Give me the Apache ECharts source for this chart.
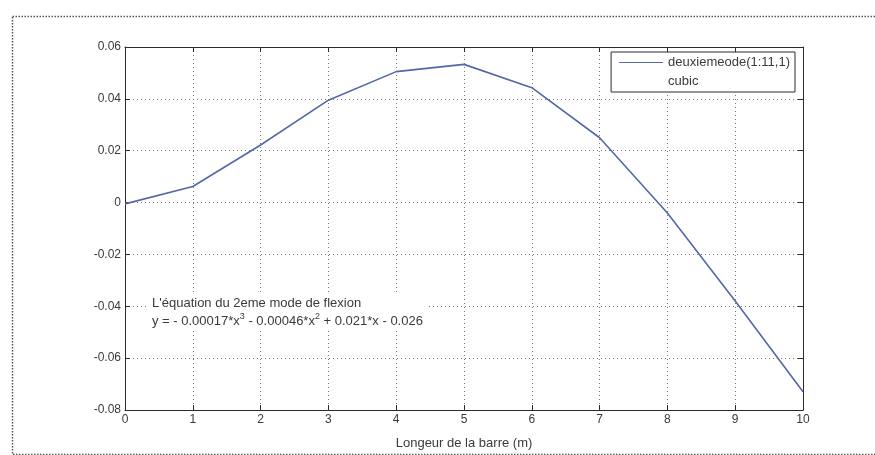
<!DOCTYPE html>
<html>
<head>
<meta charset="utf-8">
<script src="https://cdn.jsdelivr.net/npm/echarts@6/dist/echarts.min.js"></script>
<style>
  html, body { margin: 0; padding: 0; background: #fff; }
  #chart { width: 875px; height: 455px; }
</style>
</head>
<body>
<div id="chart"></div>
<script>
// Bar length positions (m) and second bending mode shape values
const positions = [0, 1, 2, 3, 4, 5, 6, 7, 8, 9, 10];
const modeValues = [-0.0005, 0.0062, 0.0222, 0.0395, 0.0505, 0.0533, 0.0443, 0.0250, -0.0040, -0.0380, -0.0730];
const seriesName = 'deuxiemeode(1:11,1)';
const fitName = 'cubic';
const xTitle = 'Longeur de la barre (m)';
const noteTitle = "L'équation du 2eme mode de flexion";
const noteEquation = 'y = - 0.00017*x{sup|3} - 0.00046*x{sup|2} + 0.021*x - 0.026';

const chart = echarts.init(document.getElementById('chart'));
const txt = '#3a3a3a';
const font = 'Liberation Sans, Arial, sans-serif';

const fmtY = v => {
  const r = Math.round(v * 100) / 100;
  return r === 0 ? '0' : String(r);
};

const baseAxis = {
  axisLine: { show: true, onZero: false, lineStyle: { color: '#2b2b2b', width: 1 } },
  axisTick: { show: true, inside: true, length: 5, lineStyle: { color: '#2b2b2b' } },
  axisLabel: { color: txt, fontFamily: font, fontSize: 12 },
};

chart.setOption({
  animation: false,
  backgroundColor: '#fff',
  grid: { left: 125, top: 47, right: 72, bottom: 43, containLabel: false },
  legend: {
    orient: 'vertical',
    right: 80,
    top: 52,
    padding: [4, 5, 4, 8],
    borderColor: '#2b2b2b',
    borderWidth: 1,
    backgroundColor: '#fff',
    itemWidth: 44,
    itemHeight: 10,
    itemGap: 6,
    textStyle: { color: txt, fontFamily: font, fontSize: 13 },
    data: [
      { name: seriesName, icon: 'path://M0,5L44,5L44,6L0,6Z' },
      { name: fitName, icon: 'none' }
    ]
  },
  xAxis: [
    Object.assign({}, baseAxis, {
      type: 'value', min: 0, max: 10, interval: 1, position: 'bottom',
      name: xTitle, nameLocation: 'middle', nameGap: 27,
      nameTextStyle: { color: txt, fontFamily: font, fontSize: 13 },
      axisLabel: Object.assign({}, baseAxis.axisLabel, { margin: 4 }),
      splitLine: { show: true, lineStyle: { color: '#7a7a7a', type: [1, 3], width: 1 } }
    }),
    Object.assign({}, baseAxis, {
      type: 'value', min: 0, max: 10, interval: 1, position: 'top',
      axisLabel: { show: false }, splitLine: { show: false }
    })
  ],
  yAxis: [
    Object.assign({}, baseAxis, {
      type: 'value', min: -0.08, max: 0.06, interval: 0.02, position: 'left',
      axisLabel: Object.assign({}, baseAxis.axisLabel, { margin: 4, formatter: fmtY }),
      splitLine: { show: true, lineStyle: { color: '#7a7a7a', type: [1, 3], width: 1 } }
    }),
    Object.assign({}, baseAxis, {
      type: 'value', min: -0.08, max: 0.06, interval: 0.02, position: 'right',
      axisLabel: { show: false }, splitLine: { show: false }
    })
  ],
  series: [
    {
      name: seriesName,
      type: 'line',
      data: positions.map((x, i) => [x, modeValues[i]]),
      showSymbol: false,
      color: '#5468a8',
      lineStyle: { color: '#5468a8', width: 1.6 },
      z: 5
    },
    {
      name: fitName,
      type: 'line',
      data: [],
      showSymbol: false,
      color: 'rgba(0,0,0,0)',
      lineStyle: { opacity: 0 }
    }
  ],
  graphic: [
    {
      type: 'rect',
      left: 10, top: 14,
      shape: { width: 880, height: 438 },
      style: { fill: 'none', stroke: '#555', lineWidth: 1.5, lineDash: [1.5, 1.5] },
      silent: true
    },
    {
      type: 'text',
      left: 149, top: 292,
      z: 10,
      style: {
        text: noteTitle + '\n' + noteEquation,
        fill: txt,
        font: '13px ' + font,
        lineHeight: 18,
        backgroundColor: '#fff',
        padding: [2, 3, 1, 3],
        rich: {
          sup: { fontSize: 9, fill: txt, fontFamily: font, verticalAlign: 'top', lineHeight: 18, padding: [0, 0, 6, 0] }
        }
      }
    }
  ]
});
</script>
</body>
</html>
